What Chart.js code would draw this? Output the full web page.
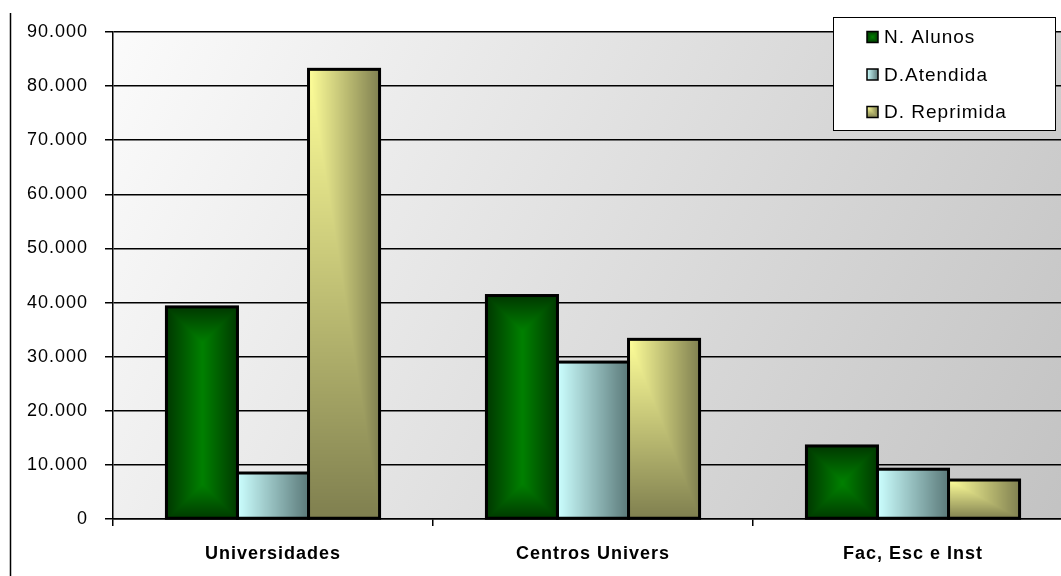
<!DOCTYPE html>
<html>
<head>
<meta charset="utf-8">
<script src="https://cdn.jsdelivr.net/npm/chart.js@4.4.1/dist/chart.umd.min.js"></script>
<style>
  html, body { margin: 0; padding: 0; background: #fff; overflow: hidden; }
  #wrap { position: relative; width: 1080px; height: 576px; }
</style>
</head>
<body>
<div id="wrap"><canvas id="alunosChart"></canvas></div>
<script>
const categories = ['Universidades', 'Centros Univers', 'Fac, Esc e Inst'];
const nAlunos = [39200, 41300, 13500];
const dAtendida = [8500, 29000, 9200];
const dReprimida = [83100, 33200, 7200];
const seriesLabels = ['N. Alunos', 'D.Atendida', 'D. Reprimida'];
const yMax = 90000;
const yStep = 10000;

const CAT_PCT = 0.666;

// fill styles per series: [kind, inner colour, outer colour]
const fills = [
  ['center', [0, 128, 0], [0, 56, 0]],
  ['horizontal', [204, 255, 255], [90, 120, 120]],
  ['corner', [255, 255, 153], [127, 127, 79]]
];

function makeFillCanvas(idx, w, h) {
  const [kind, c0, c1] = fills[idx];
  const cw = Math.max(1, Math.ceil(w));
  const ch = Math.max(1, Math.ceil(h));
  const cv = document.createElement('canvas');
  cv.width = cw;
  cv.height = ch;
  const g = cv.getContext('2d');
  const img = g.createImageData(cw, ch);
  const half = Math.min(cw, ch) / 2;
  for (let y = 0; y < ch; y++) {
    for (let x = 0; x < cw; x++) {
      let t;
      if (kind === 'center') {
        const d = Math.min(x + 0.5, cw - x - 0.5, y + 0.5, ch - y - 0.5);
        t = 1 - Math.min(1, d / half);
      } else if (kind === 'corner') {
        t = Math.max((x + 0.5) / cw, (y + 0.5) / ch);
      } else {
        t = (x + 0.5) / cw;
      }
      const k = (y * cw + x) * 4;
      img.data[k] = c0[0] + (c1[0] - c0[0]) * t;
      img.data[k + 1] = c0[1] + (c1[1] - c0[1]) * t;
      img.data[k + 2] = c0[2] + (c1[2] - c0[2]) * t;
      img.data[k + 3] = 255;
    }
  }
  g.putImageData(img, 0, 0);
  return cv;
}

function barFill(ctx) {
  const chart = ctx.chart;
  const di = ctx.datasetIndex;
  const flat = 'rgb(' + fills[di][1].join(',') + ')';
  if (ctx.type !== 'data' || !chart.chartArea) return flat;
  const xs = chart.scales.x;
  const ys = chart.scales.y;
  const n = chart.data.datasets.length;
  const catW = xs.width / chart.data.labels.length;
  const groupW = catW * CAT_PCT;
  const bw = groupW / n;
  const left = xs.getPixelForValue(ctx.dataIndex) - groupW / 2 + di * bw;
  const top = ys.getPixelForValue(ctx.raw);
  const base = ys.getPixelForValue(0);
  const cv = makeFillCanvas(di, bw, base - top);
  const pat = chart.ctx.createPattern(cv, 'no-repeat');
  pat.setTransform(new DOMMatrix([1, 0, 0, 1, left, top]));
  return pat;
}

function fmt(v) {
  return String(v).replace(/\B(?=(\d{3})+(?!\d))/g, '.');
}

const spacing = {
  id: 'spacing',
  beforeLayout(chart) { chart.ctx.letterSpacing = '1px'; },
  beforeDraw(chart) { chart.ctx.letterSpacing = '1px'; }
};

// plot background and the outer frame line
const backdrop = {
  id: 'backdrop',
  beforeDraw(chart) {
    const { ctx, chartArea: a } = chart;
    ctx.save();
    const grad = ctx.createLinearGradient(a.left, a.top, a.right, a.bottom);
    grad.addColorStop(0, '#fbfbfb');
    grad.addColorStop(1, '#c2c2c2');
    ctx.fillStyle = grad;
    ctx.fillRect(a.left, a.top, a.right - a.left, a.bottom - a.top);
    ctx.strokeStyle = '#000';
    ctx.lineWidth = 1.5;
    ctx.beginPath();
    ctx.moveTo(10.5, 13);
    ctx.lineTo(10.5, chart.height);
    ctx.stroke();
    ctx.restore();
  }
};

// black outline round every bar, drawn over the fills so neighbours share one line
const barOutline = {
  id: 'barOutline',
  afterDatasetsDraw(chart) {
    const ctx = chart.ctx;
    ctx.save();
    ctx.strokeStyle = '#000';
    ctx.lineWidth = 3;
    ctx.lineJoin = 'miter';
    chart.data.datasets.forEach((ds, di) => {
      chart.getDatasetMeta(di).data.forEach(bar => {
        const { x, y, base, width } = bar.getProps(['x', 'y', 'base', 'width'], true);
        ctx.strokeRect(x - width / 2, y, width, base - y);
      });
    });
    ctx.restore();
  }
};

// boxed legend in the upper right corner
const boxLegend = {
  id: 'boxLegend',
  afterDraw(chart, args, opts) {
    const ctx = chart.ctx;
    ctx.save();
    ctx.letterSpacing = '1px';
    ctx.fillStyle = '#fff';
    ctx.fillRect(opts.x, opts.y, opts.w, opts.h);
    ctx.strokeStyle = '#000';
    ctx.lineWidth = 1;
    ctx.strokeRect(opts.x + 0.5, opts.y + 0.5, opts.w, opts.h);
    ctx.font = '19px "Liberation Sans", Arial, sans-serif';
    ctx.textBaseline = 'middle';
    chart.data.datasets.forEach((ds, i) => {
      const cy = opts.y + opts.firstRow + i * opts.rowGap;
      const mx = opts.x + 34;
      const m = 11;
      const cv = makeFillCanvas(i, m, m);
      ctx.drawImage(cv, mx, cy - m / 2);
      ctx.lineWidth = 1.5;
      ctx.strokeRect(mx, cy - m / 2, m, m);
      ctx.fillStyle = '#000';
      ctx.fillText(ds.label, mx + 17, cy + 1);
    });
    ctx.restore();
  }
};

function renderChart() {
  const canvas = document.getElementById('alunosChart');
  Chart.defaults.font.family = '"Liberation Sans", Arial, sans-serif';
  Chart.defaults.color = '#000';

  const seriesData = [nAlunos, dAtendida, dReprimida];

  new Chart(canvas, {
    type: 'bar',
    data: {
      labels: categories,
      datasets: seriesData.map((d, i) => ({
        label: seriesLabels[i],
        data: d,
        backgroundColor: barFill,
        borderWidth: 0,
        inflateAmount: 0,
        barPercentage: 1,
        categoryPercentage: CAT_PCT
      }))
    },
    options: {
      responsive: true,
      maintainAspectRatio: false,
      animation: false,
      events: [],
      layout: { padding: { top: 32, left: 0, right: 7, bottom: 0 } },
      plugins: {
        legend: { display: false },
        tooltip: { enabled: false },
        boxLegend: { x: 833, y: 17, w: 222, h: 113, firstRow: 20, rowGap: 37.5 }
      },
      scales: {
        x: {
          offset: true,
          grid: {
            offset: true,
            drawOnChartArea: false,
            drawTicks: true,
            tickLength: 7,
            color: '#000',
            lineWidth: 1.5
          },
          border: { display: true, color: '#000', width: 1.5 },
          ticks: {
            font: { size: 18, weight: 'bold' },
            padding: 17,
            maxRotation: 0
          },
          afterFit(scale) { scale.height = 57; }
        },
        y: {
          min: 0,
          max: yMax,
          ticks: {
            stepSize: yStep,
            font: { size: 18 },
            padding: 17,
            callback: v => fmt(v)
          },
          grid: { color: '#000', lineWidth: 1.5, tickLength: 8 },
          border: { display: true, color: '#000', width: 1.5 },
          afterFit(scale) { scale.width = 113; }
        }
      }
    },
    plugins: [spacing, backdrop, barOutline, boxLegend]
  });
}

window.addEventListener('load', renderChart);
</script>
</body>
</html>
